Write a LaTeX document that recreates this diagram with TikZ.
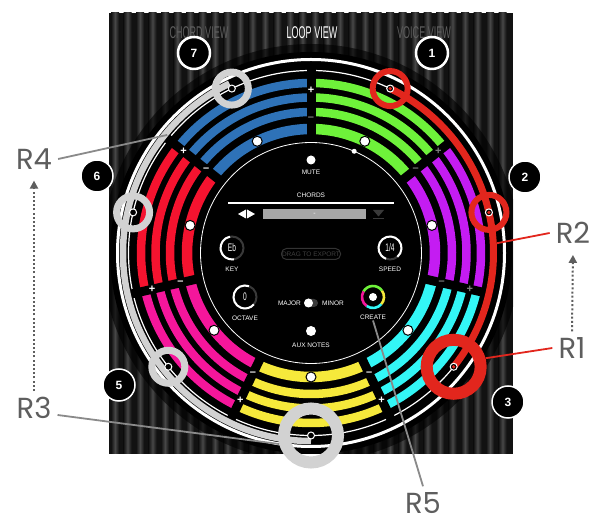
\documentclass[tikz,border=0pt]{standalone}
\usepackage{fontspec}
\setmainfont{Liberation Sans}
\newfontfamily\rfont{Poppins}
\usetikzlibrary{calc,arrows.meta}

\definecolor{secgreen}{HTML}{6EF23A}
\definecolor{secpurple}{HTML}{C41CF2}
\definecolor{seccyan}{HTML}{33F6F6}
\definecolor{secyellow}{HTML}{F6E93B}
\definecolor{secpink}{HTML}{F5169B}
\definecolor{secred}{HTML}{F5132F}
\definecolor{secblue}{HTML}{2E72B8}
\definecolor{hlred}{HTML}{E2261D}
\definecolor{hlgray}{HTML}{D2D2D2}
\definecolor{lblgray}{HTML}{5E5E5E}
\definecolor{linegray}{HTML}{8A8A8A}

\newcommand\knobtxt[1]{\scalebox{.6}[1]{\fontsize{11}{11}\selectfont #1}}

\tikzset{
	dialtext/.style = {text=white, font=\fontsize{6.5}{7}\selectfont, inner sep=1pt},
	viewtext/.style = {font=\fontsize{17}{17}\selectfont, inner sep=0},
	badge/.style = {circle, fill=black, draw=white, line width=1.5pt, minimum size=32pt, inner sep=0, text=white, font=\fontsize{12}{12}\selectfont\bfseries},
	sign/.style = {inner sep=0, font=\fontsize{11}{11}\selectfont\bfseries},
	bandpt/.style = {circle, fill=white, draw=black, line width=1pt, minimum size=10pt, inner sep=0},
	trackpt/.style = {circle, fill=black, draw=white, line width=1pt, minimum size=7pt, inner sep=0},
	ringbig/.style = {circle, minimum size=54pt, line width=12pt, inner sep=0},
	ringsmall/.style = {circle, minimum size=33pt, line width=7pt, inner sep=0},
	knob/.style = {circle, draw=gray!45!black, line width=2pt, minimum size=23pt, inner sep=0, text=white},
	whitedot/.style = {circle, fill=white, inner sep=0},
	rlabel/.style = {text=lblgray, font=\rfont\fontsize{29}{29}\selectfont, inner sep=6pt},
	redline/.style = {draw=hlred, line width=1.8pt},
	grayline/.style = {draw=linegray, line width=1.8pt},
	dotarrow/.style = {draw=lblgray, line width=2pt, dash pattern=on 2pt off 2.2pt, -{Triangle[width=8pt,length=8pt]}, shorten >=5pt}
}

\begin{document}
\begin{tikzpicture}[x=1pt, y=1pt]
	\useasboundingbox (0,0) rectangle (610,524);
	
	% striped panel
	\begin{scope}
	\clip (109,70) rectangle (513,511);
	\fill[black!93] (109,70) rectangle (513,511);
	\foreach \x in {111,123.5,...,505}
		\shade[left color=black!93, right color=black!93, middle color=black!72] (\x,70) rectangle ++(8,441);
	\coordinate (C) at (311,271);
	\fill[black, opacity=.6] (C) circle (209);
	\fill[black] (C) circle (201);
	\end{scope}
	
	\node[viewtext, text=lblgray] (chordview) at (199,491) {\scalebox{.53}[1]{CHORD VIEW}};
	\node[viewtext, text=white] (loopview) at (312,491) {\scalebox{.53}[1]{LOOP VIEW}};
	\node[viewtext, text=lblgray] (voiceview) at (424,491) {\scalebox{.53}[1]{VOICE VIEW}};
	
	\begin{scope}[shift={(C)}]
	\draw[white, line width=3pt] (0,0) circle (193.5);
	\draw[white, line width=1.2pt] (0,0) circle (182.5);
	
	% the seven coloured sectors
	\foreach \col [count=\i from 0] in {secgreen,secpurple,seccyan,secyellow,secpink,secred,secblue} {
		\pgfmathsetmacro\sa{90-\i*360/7}
		\pgfmathsetmacro\ea{\sa-360/7}
		\foreach \r/\w in {124/10.5,141/8.5,155.5/8.5,170/8.5}
			\draw[\col, line width=\w pt] (\sa:\r) arc[start angle=\sa, end angle=\ea, radius=\r];
	}
	\foreach \a in {90,38.57,-12.86,-64.29,-115.71,-167.14,141.43}
		\draw[black, line width=9pt] (\a:114) -- (\a:187);
	\foreach \a/\pc/\mc [count=\i] in {90/white/gray, 38.57/gray/gray, -12.86/gray/gray, -64.29/white/white, -115.71/white/white, -167.14/white/white, 141.43/white/white} {
		\node[sign, text=\pc] (plus\i) at (\a:163) {+};
		\node[sign, text=\mc] (minus\i) at (\a:134) {--};
	}
	
	\draw[white, line width=.8pt] (0,0) circle (110.5);
	\node[whitedot, minimum size=5pt] (playhead) at (67:110.5) {};
	
	% highlighted paths
	\draw[hlred, line width=7pt] (64.29:182.5) arc[start angle=64.29, end angle=-38.57, radius=182.5];
	\draw[hlgray, line width=6.5pt] (-90:188) arc[start angle=-90, end angle=-244.29, radius=188];
	
	\node[ringsmall, draw=hlred, minimum size=35pt, line width=6pt] (ring0) at (64.29:182.5) {};
	\node[ringsmall, draw=hlred, minimum size=35pt, line width=6pt] (ring1) at (12.86:182.5) {};
	\node[ringbig, draw=hlred] (ring2) at (-38.57:182.5) {};
	\node[ringbig, draw=hlgray] (ring3) at (-90:182.5) {};
	\node[ringsmall, draw=hlgray] (ring4) at (-141.43:182.5) {};
	\node[ringsmall, draw=hlgray] (ring5) at (167.14:182.5) {};
	\node[ringsmall, draw=hlgray] (ring6) at (115.71:182.5) {};
	
	\foreach \i in {0,...,6} {
		\pgfmathsetmacro\ca{90-(\i+.5)*360/7}
		\node[bandpt] (bdot\i) at (\ca:124) {};
		\node[trackpt] (tdot\i) at (\ca:182.5) {};
	}
	\foreach \i in {0,1,2}
		\fill[hlred] (tdot\i) circle (1.8);
	\end{scope}
	
	% centre controls
	\node[whitedot, minimum size=9pt] (mutedot) at (311,364) {};
	\node[dialtext] (mute) at (311,352) {MUTE};
	\node[dialtext] (chords) at (311,329) {CHORDS};
	\draw[white, line width=2pt] (228,321) -- (394,321);
	\fill[white] (238,310) -- (246,314.5) -- (246,305.5) -- cycle;
	\fill[white] (255,310) -- (247,314.5) -- (247,305.5) -- cycle;
	\node[fill=gray!70, minimum width=103pt, minimum height=10pt, inner sep=0, text=white, font=\fontsize{7}{7}\selectfont] (chordbox) at (314.5,310) {-};
	\fill[gray!45!black] (373,314) -- (384,314) -- (378.5,307.5) -- cycle;
	\fill[gray!45!black] (373,304.5) rectangle (384,306);
	
	\node[knob] (keyknob) at (232,276) {\knobtxt{Eb}};
	\draw[white, line width=2pt] ($(keyknob.center)+(100:11.5)$) arc[start angle=100, end angle=280, radius=11.5];
	\node[dialtext] (keylbl) at (232,255) {KEY};
	
	\node[draw=gray!40!black, text=gray!50!black, rounded corners=5pt, line width=1pt, minimum width=59pt, minimum height=11pt, inner sep=0, font=\fontsize{6.5}{7}\selectfont] (export) at (311,270) {DRAG TO EXPORT};
	
	\node[knob] (speedknob) at (390,276) {\knobtxt{1/4}};
	\draw[white, line width=2pt] ($(speedknob.center)+(-50:11.5)$) arc[start angle=-50, end angle=250, radius=11.5];
	\node[dialtext] (speedlbl) at (390,255) {SPEED};
	
	\node[knob] (octknob) at (245,227) {\knobtxt{0}};
	\draw[white, line width=2pt] ($(octknob.center)+(70:11.5)$) arc[start angle=70, end angle=320, radius=11.5];
	\node[dialtext] (octlbl) at (245,206) {OCTAVE};
	
	\fill[gray!45!black, rounded corners=4pt] (304,217) rectangle (318,225);
	\node[whitedot, minimum size=9pt] (toggle) at (308.5,221) {};
	\node[dialtext, anchor=east] (major) at (302,221) {MAJOR};
	\node[dialtext, anchor=west] (minor) at (321,221) {MINOR};
	
	\coordinate (createc) at (373,227);
	\foreach \c/\s/\e in {secgreen/35/150, secpink/150/235, seccyan/235/320, secyellow/320/395}
		\draw[\c, line width=2.6pt] ($(createc)+(\s:11)$) arc[start angle=\s, end angle=\e, radius=11];
	\node[whitedot, minimum size=8pt] (createdot) at (createc) {};
	\node[dialtext] (createlbl) at (373,207) {CREATE};
	
	\node[whitedot, minimum size=10pt] (auxdot) at (311,193) {};
	\node[dialtext] (auxlbl) at (311,179) {AUX NOTES};
	
	% numbered badges
	\node[badge, line width=2.5pt] (b7) at (194,471) {7};
	\node[badge, line width=2.5pt] (b1) at (432,471) {1};
	\node[badge] (b2) at (525,347) {2};
	\node[badge] (b3) at (508,122) {3};
	\node[badge] (b5) at (119,139) {5};
	\node[badge] (b6) at (97,348) {6};
	
	% callouts
	\node[rlabel] (R4) at (34,365) {R4};
	\node[rlabel] (R3) at (34,116) {R3};
	\node[rlabel] (R2) at (573,291) {R2};
	\node[rlabel] (R1) at (572,176) {R1};
	\node[rlabel] (R5) at (423,21) {R5};
	
	\coordinate (r4end) at ($(C)+(140.6:186)$);
	\coordinate (r2end) at ($(C)+(3:186)$);
	\draw[grayline] (R4.east) -- (r4end);
	\draw[grayline] ([yshift=-7pt]R3.east) -- (ring3.195);
	\draw[redline] (R2.west) -- (r2end);
	\draw[redline] (R1.west) -- (ring2.15);
	\draw[grayline] (createlbl.south) -- (R5.north);
	\draw[dotarrow] (R3.north) -- (R4.south);
	\draw[dotarrow] (R1.north) -- (R2.south);
\end{tikzpicture}
\end{document}
